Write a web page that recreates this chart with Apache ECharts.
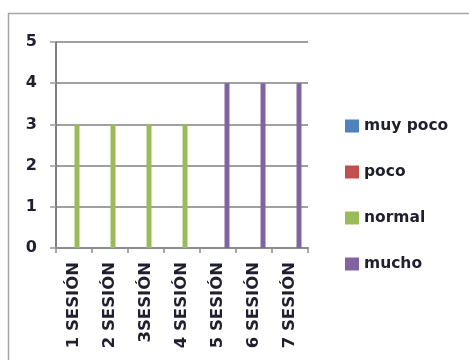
<!DOCTYPE html>
<html>
<head>
<meta charset="utf-8">
<script src="https://cdn.jsdelivr.net/npm/echarts@6/dist/echarts.min.js"></script>
<style>
  html, body { margin: 0; padding: 0; background: #fff; }
  #chart { width: 469px; height: 360px; }
</style>
</head>
<body>
<div id="chart"></div>
<script>
// Sessions on the category axis
const categories = ['1 SESIÓN', '2 SESIÓN', '3SESIÓN', '4 SESIÓN', '5 SESIÓN', '6 SESIÓN', '7 SESIÓN'];
// Answer counts per level
const muyPoco = [0, 0, 0, 0, 0, 0, 0];
const poco    = [0, 0, 0, 0, 0, 0, 0];
const normal  = [3, 3, 3, 3, 0, 0, 0];
const mucho   = [0, 0, 0, 0, 4, 4, 4];
const seriesNames = ['muy poco', 'poco', 'normal', 'mucho'];
const yTicks = [0, 1, 2, 3, 4, 5];

const colors = ['#4f81bd', '#c0504d', '#9bbb59', '#8064a2'];
const font = '"DejaVu Sans", Verdana, sans-serif';
const textColor = '#1f1f2e';

const chart = echarts.init(document.getElementById('chart'));
const values = [muyPoco, poco, normal, mucho];

chart.setOption({
  animation: false,
  color: colors,
  graphic: [{
    type: 'rect',
    shape: { x: 8.5, y: 13.5, width: 520, height: 400 },
    style: { fill: 'none', stroke: '#a6a6a6', lineWidth: 1.5 },
    z: -1
  }],
  grid: { left: 56, right: 161, top: 42, bottom: 112 },
  legend: {
    orient: 'vertical',
    left: 345,
    top: 118,
    padding: 0,
    itemWidth: 14,
    itemHeight: 13,
    itemGap: 30,
    icon: 'rect',
    textStyle: { fontFamily: font, fontWeight: 'bold', fontSize: 15.5, color: textColor },
    data: seriesNames
  },
  xAxis: {
    type: 'category',
    data: categories,
    axisLine: { lineStyle: { color: '#8c8c8c', width: 2 } },
    axisTick: { show: true, length: 5, lineStyle: { color: '#8c8c8c', width: 1.5 } },
    axisLabel: {
      rotate: 90,
      margin: 14,
      fontFamily: font,
      fontWeight: 'bold',
      fontSize: 16.5,
      color: textColor
    }
  },
  yAxis: {
    type: 'value',
    min: 0,
    max: 5,
    interval: 1,
    axisLine: { show: true, lineStyle: { color: '#7f7f7f', width: 2 } },
    axisTick: { show: true, length: 6, lineStyle: { color: '#9a9a9a', width: 1.5 } },
    splitLine: { lineStyle: { color: '#a0a0a0', width: 2 } },
    axisLabel: {
      margin: 19,
      fontFamily: font,
      fontWeight: 'bold',
      fontSize: 16,
      color: textColor,
      formatter: v => yTicks.includes(v) ? String(v) : ''
    }
  },
  series: seriesNames.map((name, i) => ({
    name,
    type: 'bar',
    data: values[i],
    barWidth: 5,
    barGap: '20%'
  }))
});
</script>
</body>
</html>
